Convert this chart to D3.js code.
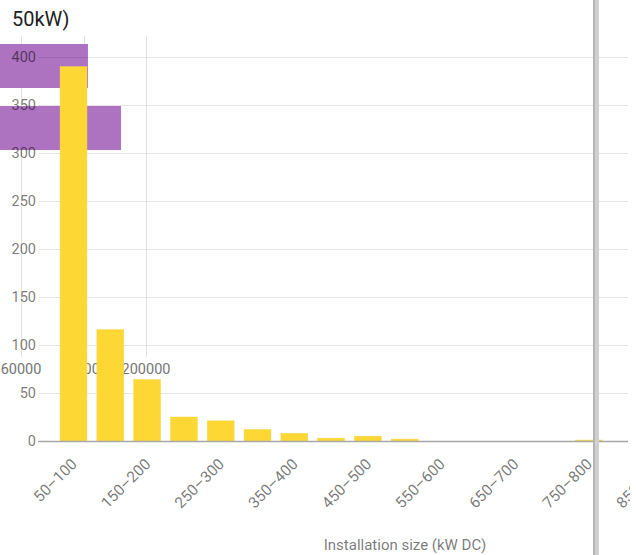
<!DOCTYPE html>
<html>
<head>
<meta charset="utf-8">
<script src="https://cdn.jsdelivr.net/npm/d3@7/dist/d3.min.js"></script>
<style>
  body { margin: 0; background: #fff; }
  svg { display: block; overflow: hidden; font-family: Roboto, "Noto Sans", sans-serif; }
</style>
</head>
<body>
<div id="chart"></div>
<script>
'use strict';

// background chart (mostly hidden behind the foreground one)
const backNames = ['A', 'B'];
const backValues = [135000, 172000];
const backTicks = [60000, 130000, 200000];

// foreground histogram
const sizeBins = ['50–100', '100–150', '150–200', '200–250', '250–300', '300–350',
  '350–400', '400–450', '450–500', '500–550', '550–600', '600–650', '650–700',
  '700–750', '750–800', '800–850', '850–900'];
const binCounts = [390, 116, 64, 25, 21, 12, 8, 3, 5, 2, 0, 0, 0, 0, 1, 0, 0];
const countTicks = [0, 50, 100, 150, 200, 250, 300, 350, 400];

const width = 630, height = 555;
const plotLeft = 38, plotRight = 628;

const svg = d3.select('#chart').append('svg')
  .attr('width', width)
  .attr('height', height);

// ---- background layer ----
let bx = d3.scaleLinear().domain([60000, 200000]).range([21, 146]);
let by = d3.scaleBand().domain(backNames).range([35, 159])
  .paddingInner(0.29).paddingOuter(0.145);

let back = svg.append('g');
back.selectAll('.vgrid').data(backTicks).enter()
  .append('line')
  .attr('x1', d => Math.round(bx(d)) + 0.5)
  .attr('x2', d => Math.round(bx(d)) + 0.5)
  .attr('y1', 36)
  .attr('y2', 357)
  .style('stroke', '#e3e3e3')
  .style('stroke-width', 1);

back.selectAll('.vlabel').data(backTicks).enter()
  .append('text')
  .text(d => d)
  .attr('x', d => bx(d))
  .attr('y', 374)
  .style('text-anchor', 'middle')
  .style('font-size', '14.5px')
  .style('fill', '#757575');

back.selectAll('.pbar').data(backValues).enter()
  .append('rect')
  .attr('x', bx(0))
  .attr('y', (d, i) => by(backNames[i]))
  .attr('width', d => bx(d) - bx(0))
  .attr('height', by.bandwidth())
  .style('fill', '#ad72c0');

// ---- foreground layer ----
let y = d3.scaleLinear().domain([0, 400]).range([441, 57]);
let x = d3.scaleBand().domain(sizeBins)
  .range([plotLeft, plotLeft + 36.8 * (sizeBins.length + 0.93)])
  .paddingInner(0.27).paddingOuter(0.6);

let front = svg.append('g');

front.append('text')
  .text('50kW)')
  .attr('x', 12)
  .attr('y', 26)
  .style('font-size', '20px')
  .style('fill', '#212121');

front.selectAll('.hgrid').data(countTicks.slice(1)).enter()
  .append('line')
  .attr('x1', plotLeft)
  .attr('x2', plotRight)
  .attr('y1', d => Math.round(y(d)) + 0.5)
  .attr('y2', d => Math.round(y(d)) + 0.5)
  .style('stroke', 'rgba(0,0,0,0.1)')
  .style('stroke-width', 1);

front.selectAll('.ylabel').data(countTicks).enter()
  .append('text')
  .text(d => d)
  .attr('x', 36)
  .attr('y', d => y(d))
  .attr('dy', '0.35em')
  .style('text-anchor', 'end')
  .style('font-size', '14.5px')
  .style('fill', 'rgba(0,0,0,0.54)');

front.selectAll('.bar').data(binCounts).enter()
  .append('rect')
  .attr('x', (d, i) => x(sizeBins[i]))
  .attr('y', d => y(d))
  .attr('width', x.bandwidth())
  .attr('height', d => y(0) - y(d))
  .style('fill', '#fdd835')
  .style('stroke', '#f5d84a')
  .style('stroke-width', 0.5);

front.append('line')
  .attr('x1', plotLeft)
  .attr('x2', plotRight)
  .attr('y1', y(0) + 0.5)
  .attr('y2', y(0) + 0.5)
  .style('stroke', '#a8a8a8')
  .style('stroke-width', 1.5);

front.selectAll('.xlabel').data(sizeBins.filter((d, i) => i % 2 === 0)).enter()
  .append('text')
  .text(d => d)
  .attr('transform', d => 'translate(' + (x(d) + x.bandwidth() / 2 + 4.5) + ',465) rotate(-45)')
  .style('text-anchor', 'end')
  .style('font-size', '15.5px')
  .style('fill', 'rgba(0,0,0,0.54)');

front.append('text')
  .text('Installation size (kW DC)')
  .attr('x', 405)
  .attr('y', 550)
  .style('text-anchor', 'middle')
  .style('font-size', '15px')
  .style('fill', 'rgba(0,0,0,0.54)');

// panel edge
svg.append('rect')
  .attr('x', 593).attr('y', 0)
  .attr('width', 6).attr('height', height)
  .style('fill', '#cfcfcf');
svg.append('rect')
  .attr('x', 593).attr('y', 0)
  .attr('width', 2).attr('height', height)
  .style('fill', '#b5b5b5');
</script>
</body>
</html>
